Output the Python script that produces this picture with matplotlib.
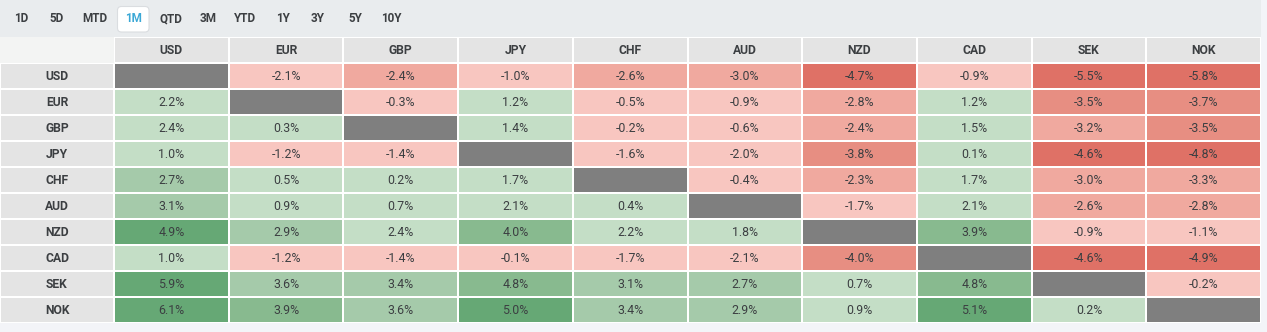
import numpy as np
import matplotlib.pyplot as plt
from matplotlib.colors import ListedColormap, BoundaryNorm
from matplotlib.patches import FancyBboxPatch

plt.rcParams['font.family'] = ['Roboto', 'DejaVu Sans']

currencies = ["USD", "EUR", "GBP", "JPY", "CHF", "AUD", "NZD", "CAD", "SEK", "NOK"]
periods = ["1D", "5D", "MTD", "1M", "QTD", "3M", "YTD", "1Y", "3Y", "5Y", "10Y"]
active_period = "1M"

# row = base currency, column = quote currency, 1M change in %
changes = np.array([
    [np.nan, -2.1, -2.4, -1.0, -2.6, -3.0, -4.7, -0.9, -5.5, -5.8],
    [2.2, np.nan, -0.3, 1.2, -0.5, -0.9, -2.8, 1.2, -3.5, -3.7],
    [2.4, 0.3, np.nan, 1.4, -0.2, -0.6, -2.4, 1.5, -3.2, -3.5],
    [1.0, -1.2, -1.4, np.nan, -1.6, -2.0, -3.8, 0.1, -4.6, -4.8],
    [2.7, 0.5, 0.2, 1.7, np.nan, -0.4, -2.3, 1.7, -3.0, -3.3],
    [3.1, 0.9, 0.7, 2.1, 0.4, np.nan, -1.7, 2.1, -2.6, -2.8],
    [4.9, 2.9, 2.4, 4.0, 2.2, 1.8, np.nan, 3.9, -0.9, -1.1],
    [1.0, -1.2, -1.4, -0.1, -1.7, -2.1, -4.0, np.nan, -4.6, -4.9],
    [5.9, 3.6, 3.4, 4.8, 3.1, 2.7, 0.7, 4.8, np.nan, -0.2],
    [6.1, 3.9, 3.6, 5.0, 3.4, 2.9, 0.9, 5.1, 0.2, np.nan],
])

# colour bins
bounds = [-100, -4.5, -3.4, -2.25, 0, 2.5, 3.75, 4.85, 100]
colors = ["#DF7166", "#E78E82", "#F0A99F", "#F8C6C0",
          "#C4DEC6", "#A5CAAA", "#88BA8F", "#66A875"]
cmap = ListedColormap(colors)
cmap.set_bad("#7F7F7F")
norm = BoundaryNorm(bounds, cmap.N)

W, H = 1267, 332
fig = plt.figure(figsize=(W / 100, H / 100), dpi=100, facecolor="#F3F4F8")


def px_axes(x0, y0, x1, y1, **kw):
    return fig.add_axes([x0 / W, 1 - y1 / H, (x1 - x0) / W, (y1 - y0) / H], **kw)


text_color = "#3C3F42"

# tab bar
bar = px_axes(0, 0, 1261, 37)
bar.set_xlim(0, 1261)
bar.set_ylim(37, 0)
bar.axis("off")
bar.add_patch(plt.Rectangle((0, 0), 1261, 37, color="#E9ECEE", zorder=0))
tab_x = [21, 57, 95, 133, 171, 208, 245, 283, 318, 355, 391]
for x, p in zip(tab_x, periods):
    if p == active_period:
        bar.add_patch(FancyBboxPatch((117.5, 6.5), 31.5, 25.5, boxstyle="round,pad=0,rounding_size=4",
                                     fc="white", ec="#DADDE0", lw=0.8))
        bar.text(x, 19, p, ha="center", va="center", fontsize=8.4,
                 fontweight="bold", color="#3BA8D6")
    else:
        bar.text(x, 19, p, ha="center", va="center", fontsize=8.4,
                 fontweight="bold", color=text_color)

# corner cell
corner = px_axes(0, 37, 114, 63)
corner.set_facecolor("#F3F4F3")
corner.set_xticks([])
corner.set_yticks([])
for s in corner.spines.values():
    s.set_visible(False)

n = len(currencies)

# column header
head = px_axes(114, 37, 1261, 63)
head.pcolormesh(np.zeros((1, n)), cmap=ListedColormap(["#E4E4E4"]),
                edgecolors="white", linewidth=1.2)
head.set_xlim(0, n)
head.set_ylim(1, 0)
head.axis("off")
for j, c in enumerate(currencies):
    head.text(j + 0.5, 0.52, c, ha="center", va="center", fontsize=8.7,
              fontweight="bold", color=text_color)

# row labels
side = px_axes(0, 63, 114, 323)
side.pcolormesh(np.zeros((n, 1)), cmap=ListedColormap(["#E4E4E4"]),
                edgecolors="white", linewidth=1.2)
side.set_xlim(0, 1)
side.set_ylim(n, 0)
side.axis("off")
for i, c in enumerate(currencies):
    side.text(0.5, i + 0.52, c, ha="center", va="center", fontsize=8.7,
              fontweight="bold", color=text_color)

# heatmap
ax = px_axes(114, 63, 1261, 323)
ax.pcolormesh(np.ma.masked_invalid(changes), cmap=cmap, norm=norm,
              edgecolors="white", linewidth=1.2)
ax.set_xlim(0, n)
ax.set_ylim(n, 0)
ax.axis("off")
for i in range(n):
    for j in range(n):
        v = changes[i, j]
        if np.isnan(v):
            continue
        ax.text(j + 0.5, i + 0.52, f"{v:.1f}%", ha="center", va="center",
                fontsize=8.9, color=text_color)

fig.savefig("out.png", dpi=100, facecolor=fig.get_facecolor())
